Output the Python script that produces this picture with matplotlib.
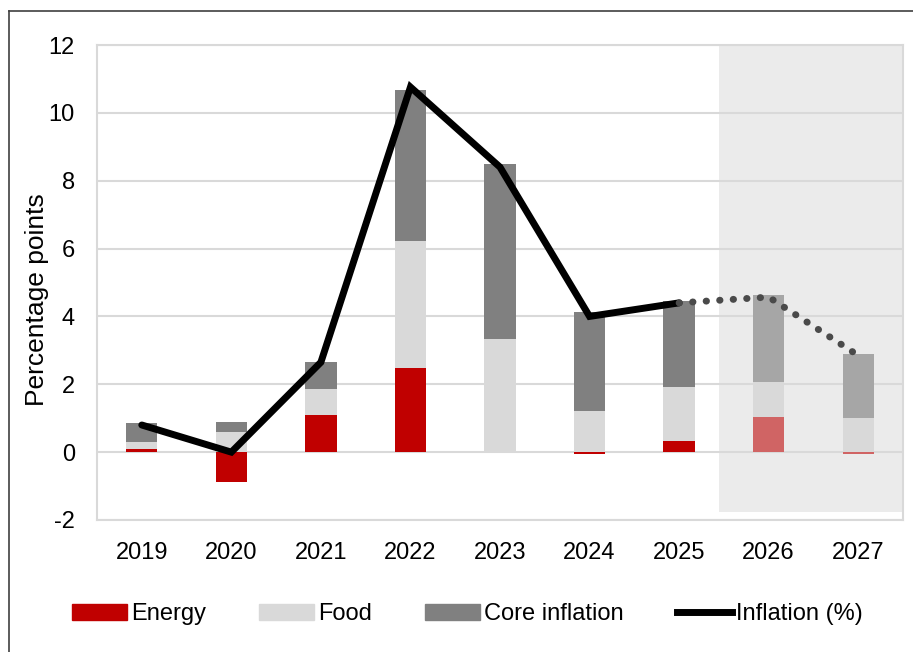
import matplotlib
matplotlib.use("Agg")
import matplotlib.pyplot as plt
from matplotlib.lines import Line2D
from matplotlib.patches import Patch
import numpy as np

plt.rcParams['font.family'] = ['Liberation Sans', 'DejaVu Sans']
plt.rcParams['axes.unicode_minus'] = False

years = ["2019", "2020", "2021", "2022", "2023", "2024", "2025", "2026", "2027"]
energy = [0.10, -0.87, 1.10, 2.48, 0.00, -0.06, 0.34, 1.05, -0.06]
food = [0.20, 0.60, 0.75, 3.73, 3.33, 1.22, 1.57, 1.01, 1.01]
core = [0.55, 0.30, 0.80, 4.47, 5.15, 2.92, 2.54, 2.56, 1.87]
inflation = [0.80, 0.00, 2.65, 10.76, 8.40, 4.00, 4.40, 4.57, 2.85]
n_actual = 7  # 2019-2025 outturn, 2026-2027 forecast

fig = plt.figure(figsize=(9.13, 6.52), dpi=100)
ax = fig.add_axes([97/913, 1-520/652, (903-97)/913, (520-45)/652])

x = np.arange(len(years))
w = 0.35
c_energy = ["#c00000"] * n_actual + ["#d06464"] * (len(years) - n_actual)
c_food = ["#d9d9d9"] * len(years)
c_core = ["#808080"] * n_actual + ["#a6a6a6"] * (len(years) - n_actual)

energy = np.array(energy)
food = np.array(food)
core = np.array(core)
pos_energy = np.where(energy > 0, energy, 0)

ax.bar(x, energy, w, color=c_energy, zorder=2)
ax.bar(x, food, w, bottom=pos_energy, color=c_food, zorder=2)
ax.bar(x, core, w, bottom=pos_energy + food, color=c_core, zorder=2)

ax.plot(x[:n_actual], inflation[:n_actual], color="black", lw=5, zorder=4,
        solid_joinstyle="miter", solid_capstyle="round")
ax.plot(x[n_actual-1:], inflation[n_actual-1:], color="#4a4a4a", lw=5, zorder=4,
        linestyle=(0, (0.05, 1.9)), dash_capstyle="round")

ax.axvspan(6.45, 8.5, ymin=(0.25)/14, ymax=1, color="#ebebeb", zorder=0.2, lw=0)

ax.set_xlim(-0.5, 8.5)
ax.set_ylim(-2, 12)
ax.set_yticks(range(-2, 13, 2))
ax.set_xticks(x)
ax.set_xticklabels(years)
ax.set_axisbelow(True)
ax.yaxis.grid(True, color="#d9d9d9", lw=1.5, zorder=0.5)
ax.tick_params(axis="x", length=0, labelsize=17, pad=16, colors="black")
ax.tick_params(axis="y", length=0, labelsize=17, pad=16, colors="black")
for s in ax.spines.values():
    s.set_color("#d9d9d9")
    s.set_linewidth(1.5)

ax.set_ylabel("Percentage points", fontsize=19)
ax.yaxis.set_label_coords(-0.059, 0.465)

handles = [Patch(color="#c00000"), Patch(color="#d9d9d9"), Patch(color="#808080"),
           Line2D([0], [0], color="black", lw=5)]
labels = ["Energy", "Food", "Core inflation", "Inflation (%)"]
fig.legend(handles, labels, loc="center", bbox_to_anchor=(467/913, 1-614/652),
           ncol=4, frameon=False, fontsize=17, handlelength=2.33,
           handletextpad=0.17, columnspacing=2.25, handleheight=0.64)

# figure border (partly cropped in the original)
fig.add_artist(Line2D([9/913, 9/913], [0, 1-11/652], transform=fig.transFigure,
                      color="#404040", lw=1.2))
fig.add_artist(Line2D([9/913, 1], [1-11/652, 1-11/652], transform=fig.transFigure,
                      color="#404040", lw=1.2))

fig.savefig("out.png", dpi=100)
